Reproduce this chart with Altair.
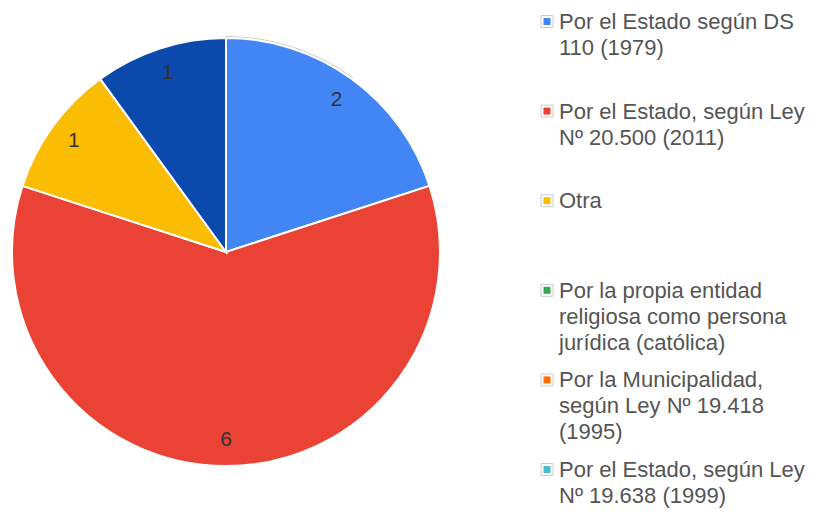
import altair as alt
import pandas as pd

# Pie slices
slice_names = [
    "Por el Estado según DS 110 (1979)",
    "Por el Estado, según Ley Nº 20.500 (2011)",
    "Otra",
    "Sin información",
]
slice_values = [2, 6, 1, 1]
slice_colors = ["#4285F4", "#EA4335", "#FBBC04", "#0B49AD"]

# Legend entries
legend_labels = [
    "Por el Estado según DS\n110 (1979)",
    " Por el Estado, según Ley\nNº 20.500 (2011)",
    "Otra",
    "Por la propia entidad\nreligiosa como persona\njurídica (católica)",
    "Por la Municipalidad,\nsegún Ley Nº 19.418\n(1995)",
    "Por el Estado, según Ley\nNº 19.638 (1999)",
]
legend_colors = ["#4285F4", "#EA4335", "#FBBC04", "#34A853", "#FF6D01", "#46BDC6"]

FONT = "Liberation Sans, Arial, sans-serif"
CX, CY, R = 218, 244, 214

pie_df = pd.DataFrame({
    "name": slice_names,
    "value": slice_values,
    "idx": list(range(len(slice_names))),
})
leg_df = pd.DataFrame({
    "label": legend_labels,
    "key": [str(i) for i in range(len(legend_labels))],
    "slot": list(range(len(legend_labels))),
})
ring_df = pd.DataFrame({"v": [1]})

ring = alt.Chart(ring_df).mark_arc(
    radius=R + 1.5, fill="white", stroke="#c8c8c8", strokeWidth=1
).encode(
    theta=alt.Theta("v:Q"),
    x=alt.value(CX), y=alt.value(CY),
)

base = alt.Chart(pie_df).encode(
    theta=alt.Theta("value:Q", stack=True),
    order=alt.Order("idx:Q"),
    x=alt.value(CX), y=alt.value(CY),
)

pie = base.mark_arc(radius=R, stroke="white", strokeWidth=2).encode(
    color=alt.Color("name:N",
                    scale=alt.Scale(domain=slice_names, range=slice_colors),
                    legend=None),
)

labels = base.mark_text(
    radius=188, fontSize=21, font=FONT, color="#333333",
    align="center", baseline="middle",
).encode(text=alt.Text("value:Q"))

yscale = alt.Scale(domain=[0, len(legend_labels) - 1], range=[13.5, 461.5])

sw_outer = alt.Chart(leg_df).mark_square(
    size=144, fill="white", stroke="#cccccc", strokeWidth=1, opacity=1
).encode(
    x=alt.value(539),
    y=alt.Y("slot:Q", scale=yscale, axis=None),
)

sw_inner = alt.Chart(leg_df).mark_square(size=49, opacity=1).encode(
    x=alt.value(539),
    y=alt.Y("slot:Q", scale=yscale, axis=None),
    color=alt.Color("key:N",
                    scale=alt.Scale(domain=[str(i) for i in range(len(legend_labels))],
                                    range=legend_colors),
                    legend=None),
)

leg_text = alt.Chart(leg_df).mark_text(
    align="left", baseline="alphabetic", dy=7.5, fontSize=22, font=FONT,
    color="#555555", lineBreak="\n", lineHeight=26,
).encode(
    x=alt.value(551),
    y=alt.Y("slot:Q", scale=yscale, axis=None),
    text="label:N",
)

chart = alt.layer(ring, pie, labels, sw_outer, sw_inner, leg_text).resolve_scale(
    color="independent"
).properties(
    width=811, height=501, padding=0, autosize=alt.AutoSizeParams(type="none")
).configure_view(stroke=None)

chart.save("out.html", embed_options={"renderer": "svg", "actions": False})
